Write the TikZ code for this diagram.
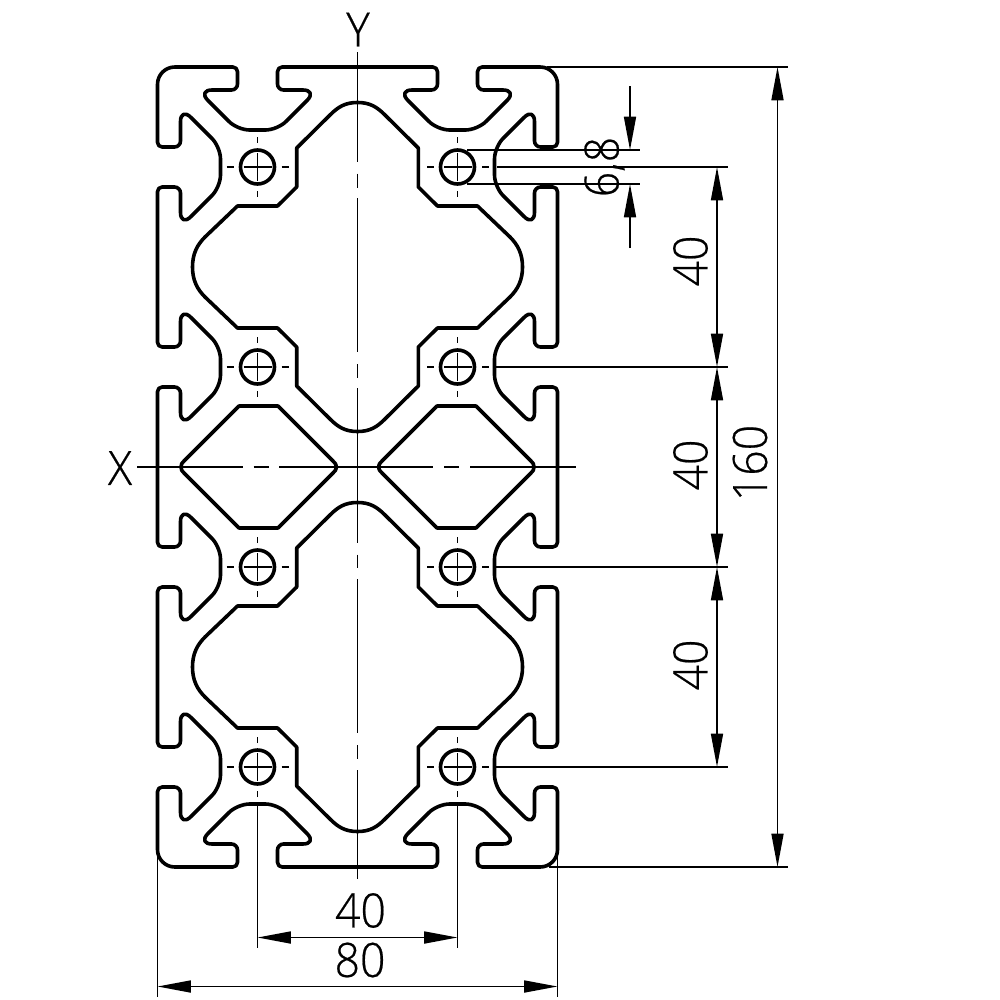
\documentclass[tikz,border=0pt]{standalone}
\usepackage{fontspec}
\setmainfont[FakeBold=0.45,FakeStretch=0.94]{Open Sans Light}
\usetikzlibrary{arrows.meta}

\tikzset{
  outline/.style={line width=2.7pt, line join=round, line cap=round},
  thinline/.style={line width=1.25pt},
  dimline/.style={line width=1.25pt, {Triangle[length=25pt,width=9pt,sep=0pt]}-{Triangle[length=25pt,width=9pt,sep=0pt]}},
  dimlead/.style={line width=1.25pt, -{Triangle[length=25pt,width=9pt,sep=0pt]}},
  dimtext/.style={inner sep=0pt, font=\fontsize{35.5}{35.5}\selectfont},
}

% T-slot in the left side, centred on height #1
\newcommand{\sideslot}[1]{
  [rounded corners=3.5pt] -- (157.5,#1-20)
  [rounded corners=4.5pt] -- (180.5,#1-20)
  [rounded corners=11pt] -- (180.5,#1-60)
  [rounded corners=9pt] -- (220.5,#1-20)
  [rounded corners=9pt] -- (220.5,#1+20)
  [rounded corners=11pt] -- (180.5,#1+60)
  [rounded corners=4.5pt] -- (180.5,#1+20)
  [rounded corners=3.5pt] -- (157.5,#1+20)
}
% T-slot in the top side, centred on #1
\newcommand{\topslot}[1]{
  [rounded corners=3.5pt] -- (#1+20,67)
  [rounded corners=4.5pt] -- (#1+20,90)
  [rounded corners=11pt] -- (#1+60,90)
  [rounded corners=9pt] -- (#1+20,130)
  [rounded corners=9pt] -- (#1-20,130)
  [rounded corners=11pt] -- (#1-60,90)
  [rounded corners=4.5pt] -- (#1-20,90)
  [rounded corners=3.5pt] -- (#1-20,67)
}

\begin{document}
\begin{tikzpicture}[x=0.75pt,y=0.75pt,yscale=-1,xscale=1]
\useasboundingbox (0,0) rectangle (1000,1000);

% one quarter of the section, mirrored four times
\foreach \sx/\sy in {1/1,-1/1,1/-1,-1/-1}{
\begin{scope}[shift={(357.5,467)},xscale=\sx,yscale=\sy,shift={(-357.5,-467)}]
%Outer contour
\draw [outline] (357.5,67) \topslot{257.5}
  [rounded corners=13pt] -- (157.5,67)
  \sideslot{167} \sideslot{367}
  [sharp corners] -- (157.5,467);
%Big cavity
\draw [outline] (357.5,102.5) .. controls (345,102.5) and (338,107) .. (330,115)
  -- (296.7,148) -- (296.7,187) -- (277.5,206) -- (237.5,206) -- (205,237)
  .. controls (197,245) and (192.5,254) .. (192.5,267)
  .. controls (192.5,280) and (197,289) .. (205,297)
  -- (237.5,328) -- (277.5,328) -- (296.7,347) -- (296.7,386) -- (330,419)
  .. controls (338,427) and (345,431.5) .. (357.5,431.5);
%Diamond cavity
\draw [outline] (181,467) .. controls (181,464) and (182,463) .. (184,461)
  -- (239,406) -- (278,406) -- (333,461)
  .. controls (335,463) and (336.5,464.5) .. (336.5,467);
%Holes
\foreach \hy in {167,367}{
\draw [outline] (257.5,\hy) circle [radius=17];
\draw [thinline] (243.5,\hy) -- (271.5,\hy) (257.5,\hy-14) -- (257.5,\hy+14);
\draw [thinline] (226.5,\hy) -- (233.5,\hy) (281.5,\hy) -- (288.5,\hy);
\draw [thinline] (257.5,\hy-30) -- (257.5,\hy-24) (257.5,\hy+24) -- (257.5,\hy+30);
}
\end{scope}
}

%Centre lines
\draw [thinline] (137,467) -- (243,467) (253.5,467) -- (268.5,467) (279,467) -- (433,467) (444,467) -- (459,467) (470,467) -- (576,467);
\draw [thinline] (357.5,52) -- (357.5,162) (357.5,173.5) -- (357.5,187.5) (357.5,198) -- (357.5,352) (357.5,364) -- (357.5,378) (357.5,388) -- (357.5,543) (357.5,554.5) -- (357.5,568) (357.5,579) -- (357.5,733) (357.5,745) -- (357.5,759) (357.5,770) -- (357.5,879);

%Extension lines
\draw [thinline] (547,67) -- (788,67);
\draw [thinline] (497,167) -- (728,167);
\draw [thinline] (495,367) -- (728,367);
\draw [thinline] (495,567) -- (728,567);
\draw [thinline] (495,767) -- (728,767);
\draw [thinline] (549,867) -- (788,867);
\draw [thinline] (467,150) -- (640,150);
\draw [thinline] (467,184) -- (640,184);
\draw [thinline] (257.5,805) -- (257.5,948);
\draw [thinline] (457.5,805) -- (457.5,948);
\draw [thinline] (157.5,855) -- (157.5,997);
\draw [thinline] (557.5,855) -- (557.5,997);

%Dimension lines
\draw [dimline] (717,167) -- (717,367);
\draw [dimline] (717,367) -- (717,567);
\draw [dimline] (717,567) -- (717,767);
\draw [dimline] (777.5,67) -- (777.5,867);
\draw [dimline] (257.5,937.5) -- (457.5,937.5);
\draw [dimline] (157.5,986.5) -- (557.5,986.5);
\draw [dimlead] (630,86) -- (630,150);
\draw [dimlead] (630,248) -- (630,184);

% Text Node
\node [dimtext] (labely) at (358,29.5) {Y};
\node [dimtext] (labelx) at (120,468) {X};
\node [dimtext, rotate=90] (hole) at (604.5,167) {6,8};
\node [dimtext, rotate=90] (pitcha) at (690.5,261) {40};
\node [dimtext, rotate=90] (pitchb) at (690.5,465) {40};
\node [dimtext, rotate=90] (pitchc) at (690.5,665) {40};
\node [dimtext, rotate=90] (height) at (750,463) {160};
\node [dimtext] (widtha) at (360.5,910.5) {40};
\node [dimtext] (widthb) at (360,960) {80};

\end{tikzpicture}
\end{document}
